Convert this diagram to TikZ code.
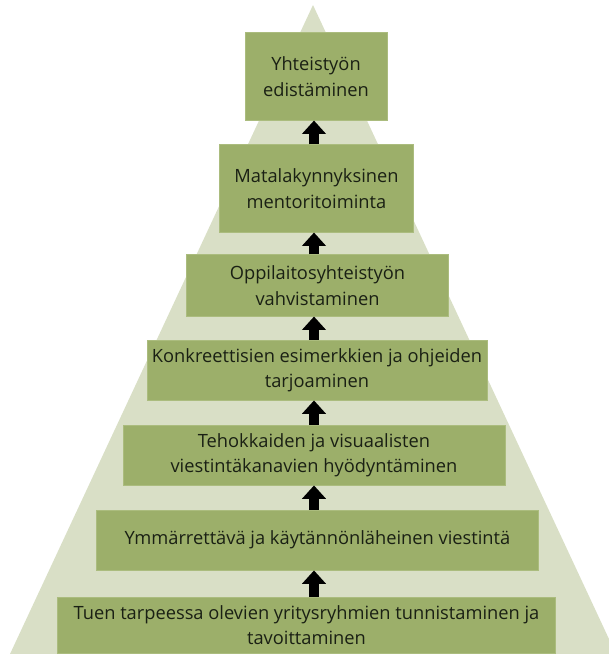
\documentclass[tikz,border=0pt]{standalone}
\usepackage{fontspec}
\setmainfont{Open Sans}
\usetikzlibrary{arrows.meta}

\definecolor{pyramid}{HTML}{D9DFC6}
\definecolor{stepfill}{HTML}{9CAF6A}
\definecolor{stepline}{HTML}{ABBC7E}
\definecolor{steptext}{HTML}{1A2014}

\tikzset{
  stepbox/.style={rectangle, fill=stepfill, draw=stepline, line width=0.6pt,
    inner sep=0pt, align=center, text=steptext,
    font=\fontsize{13}{18}\selectfont},
  uparrow/.style={line width=7.5pt, -{Triangle[width=16.5pt,length=9.5pt]}}
}

\begin{document}
\begin{tikzpicture}[x=0.025cm, y=-0.025cm]
        % ---- page size and background pyramid -----------
        \useasboundingbox (0,0) rectangle (609,654);
        \clip (0,0) rectangle (609,654);
        \fill[pyramid] (313,5) -- (616,654) -- (10,654) -- cycle;
        \coordinate (apex) at (314,5);

        % ---- steps, top to bottom -------------------------
        \node[stepbox, minimum width=3.55cm, minimum height=2.18cm] (s1) at (316,76.5)
          {Yhteistyön\\edistäminen};
        \node[stepbox, minimum width=4.83cm, minimum height=2.18cm] (s2) at (316.5,188.5)
          {Matalakynnyksinen\\mentoritoiminta};
        \node[stepbox, minimum width=6.53cm, minimum height=1.53cm] (s3) at (317.5,285.5)
          {Oppilaitosyhteistyön\\vahvistaminen};
        \node[stepbox, minimum width=8.5cm, minimum height=1.5cm] (s4) at (317,370)
          {Konkreettisien esimerkkien ja ohjeiden\\tarjoaminen};
        \node[stepbox, minimum width=9.55cm, minimum height=1.5cm] (s5) at (314,455)
          {Tehokkaiden ja visuaalisten\\viestintäkanavien hyödyntäminen};
        \node[stepbox, minimum width=11.03cm, minimum height=1.5cm] (s6) at (317.5,540)
          {Ymmärrettävä ja käytännönläheinen viestintä};
        \node[stepbox, minimum width=12.43cm, minimum height=1.4cm] (s7) at (306.5,625)
          {Tuen tarpeessa olevien yritysryhmien tunnistaminen ja\\tavoittaminen};

        % ---- arrows between the steps ---------------------
        \draw[uparrow] (s7.north -| apex) -- (s6.south -| apex);
        \draw[uparrow] (s6.north -| apex) -- (s5.south -| apex);
        \draw[uparrow] (s5.north -| apex) -- (s4.south -| apex);
        \draw[uparrow] (s4.north -| apex) -- (s3.south -| apex);
        \draw[uparrow] (s3.north -| apex) -- (s2.south -| apex);
        \draw[uparrow] (s2.north -| apex) -- (s1.south -| apex);
    \end{tikzpicture}
\end{document}
